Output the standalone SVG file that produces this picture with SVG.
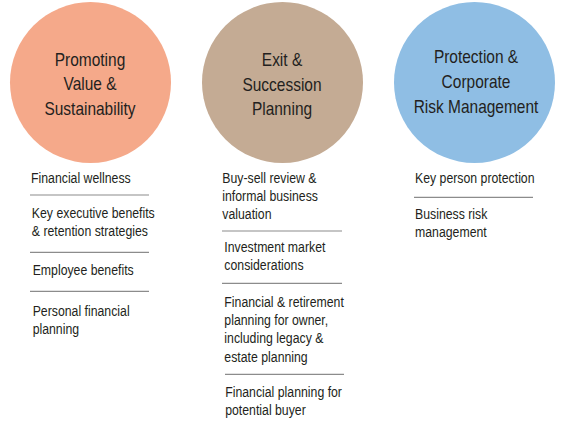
<svg xmlns="http://www.w3.org/2000/svg" width="566" height="442" viewBox="0 0 566 442">
<style>
.title{font-family:"Liberation Sans",Arial,sans-serif;font-size:18px;fill:#231f20;text-anchor:middle}
.item{font-family:"Liberation Sans",Arial,sans-serif;font-size:15px;fill:#231f20}
.sep{stroke:#8c8c8c;stroke-width:1.2}
</style>
<rect width="566" height="442" fill="#ffffff"/>
<g id="node-promoting">
<circle cx="90.5" cy="82.5" r="80.5" fill="#f5a98a"/>
<g transform="translate(90,0) scale(0.86,1)">
<text class="title" x="0" y="66">Promoting</text>
<text class="title" x="0" y="90.5">Value &amp;</text>
<text class="title" x="0" y="115">Sustainability</text>
</g>
</g>
<g id="node-exit">
<circle cx="282.5" cy="82.5" r="80.5" fill="#c4ab94"/>
<g transform="translate(282,0) scale(0.86,1)">
<text class="title" x="0" y="66">Exit &amp;</text>
<text class="title" x="0" y="91">Succession</text>
<text class="title" x="0" y="115">Planning</text>
</g>
</g>
<g id="node-protection">
<circle cx="474.5" cy="82.5" r="80.5" fill="#8fbee4"/>
<g transform="translate(476,0) scale(0.86,1)">
<text class="title" x="0" y="63">Protection &amp;</text>
<text class="title" x="0" y="88">Corporate</text>
<text class="title" x="0" y="113">Risk Management</text>
</g>
</g>
<g id="list-promoting">
<g transform="translate(31,0) scale(0.82,1)">
<text class="item" x="0" y="182.7">Financial wellness</text>
<text class="item" x="1" y="218.3">Key executive benefits</text>
<text class="item" x="1" y="236.3">&amp; retention strategies</text>
<text class="item" x="2" y="275">Employee benefits</text>
<text class="item" x="2" y="315.7">Personal financial</text>
<text class="item" x="2" y="334">planning</text>
</g>
<line class="sep" x1="30" y1="195" x2="149" y2="195"/>
<line class="sep" x1="30" y1="252.3" x2="149" y2="252.3"/>
<line class="sep" x1="30" y1="291.3" x2="149" y2="291.3"/>
</g>
<g id="list-exit">
<g transform="translate(222.3,0) scale(0.82,1)">
<text class="item" x="0" y="182.7">Buy-sell review &amp;</text>
<text class="item" x="0" y="201">informal business</text>
<text class="item" x="0" y="219.3">valuation</text>
<text class="item" x="2.5" y="251.7">Investment market</text>
<text class="item" x="2.5" y="270">considerations</text>
<text class="item" x="2.5" y="306.7">Financial &amp; retirement</text>
<text class="item" x="2.5" y="325">planning for owner,</text>
<text class="item" x="2.5" y="343.3">including legacy &amp;</text>
<text class="item" x="2.5" y="361.7">estate planning</text>
<text class="item" x="3.5" y="397.3">Financial planning for</text>
<text class="item" x="3.5" y="415.5">potential buyer</text>
</g>
<line class="sep" x1="222" y1="231" x2="342" y2="231"/>
<line class="sep" x1="222" y1="283.3" x2="342" y2="283.3"/>
<line class="sep" x1="225" y1="374.3" x2="344" y2="374.3"/>
</g>
<g id="list-protection">
<g transform="translate(415,0) scale(0.82,1)">
<text class="item" x="0" y="182.7">Key person protection</text>
<text class="item" x="0" y="219.3">Business risk</text>
<text class="item" x="0" y="237.3">management</text>
</g>
<line class="sep" x1="414" y1="197.3" x2="533" y2="197.3"/>
</g>
<g id="connectors"/>
</svg>
